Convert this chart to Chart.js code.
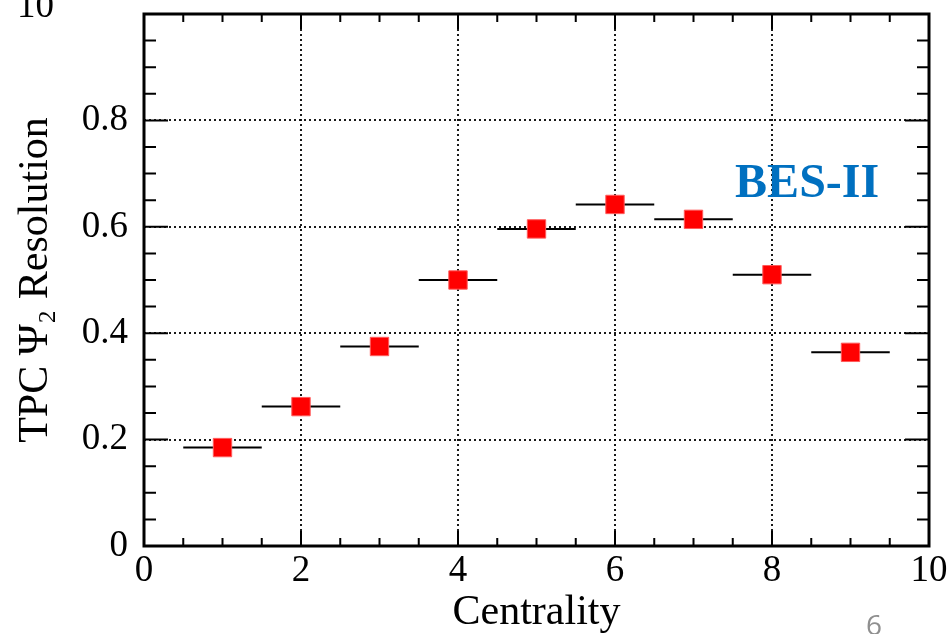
<!DOCTYPE html>
<html>
<head>
<meta charset="utf-8">
<script src="https://cdn.jsdelivr.net/npm/chart.js@4.4.0/dist/chart.umd.min.js"></script>
<style>
    html, body { margin: 0; padding: 0; background: #fff; }
</style>
</head>
<body>
<canvas id="resolution-chart" width="951" height="634"></canvas>
<script>
// Data
const centralityBins = [1, 2, 3, 4, 5, 6, 7, 8, 9];
const binHalfWidths = [0.5, 0.5, 0.5, 0.5, 0.5, 0.5, 0.5, 0.5, 0.5];
const resolutionValues = [0.185, 0.262, 0.375, 0.500, 0.596, 0.642, 0.614, 0.510, 0.364];
// the top label (1) is cut by the slide edge, drawn separately below
const yTickLabels = ["0", "0.2", "0.4", "0.6", "0.8", ""];

const serif = "'Liberation Serif', 'Times New Roman', serif";

// horizontal bin-width bars, one segment per bin (null breaks the line)
const errorBarPoints = [];
centralityBins.forEach((c, i) => {
    errorBarPoints.push({ x: c - binHalfWidths[i], y: resolutionValues[i] });
    errorBarPoints.push({ x: c + binHalfWidths[i], y: resolutionValues[i] });
    errorBarPoints.push({ x: c, y: null });
});

// ROOT style frame with inward ticks on all four sides, plus the labels
const frameAndTicks = {
    id: "frameAndTicks",
    afterDatasetsDraw(chart) {
        const { ctx, chartArea: a, scales: { x, y } } = chart;
        ctx.save();
        ctx.strokeStyle = "#000";
        ctx.lineWidth = 2;
        ctx.beginPath();
        for (let i = 0; i <= 20; i++) {
            const px = x.getPixelForValue(i * 0.5);
            const len = i % 4 === 0 ? 15 : 8;
            ctx.moveTo(px, a.bottom);
            ctx.lineTo(px, a.bottom - len);
            ctx.moveTo(px, a.top);
            ctx.lineTo(px, a.top + len);
        }
        for (let i = 0; i <= 20; i++) {
            const py = y.getPixelForValue(i * 0.05);
            const len = i % 4 === 0 ? 24 : 12;
            ctx.moveTo(a.left, py);
            ctx.lineTo(a.left + len, py);
            ctx.moveTo(a.right, py);
            ctx.lineTo(a.right - len, py);
        }
        ctx.stroke();
        ctx.lineWidth = 3;
        ctx.strokeRect(a.left, a.top, a.right - a.left, a.bottom - a.top);

        ctx.fillStyle = "#000";
        ctx.font = "37px " + serif;
        ctx.textAlign = "left";
        ctx.textBaseline = "alphabetic";
        ctx.fillText("10", 17, 17);

        ctx.fillStyle = "#0070c0";
        ctx.font = "bold 48px " + serif;
        ctx.fillText("BES-II", x.getPixelForValue(7.53), y.getPixelForValue(0.656));

        ctx.fillStyle = "#8f8f8f";
        ctx.font = "28px 'Open Sans', sans-serif";
        ctx.textAlign = "center";
        ctx.fillText("6", 874, 635);
        ctx.restore();
    }
};

const chartCanvas = document.getElementById("resolution-chart");

const resolutionChart = new Chart(chartCanvas, {
    type: "scatter",
    data: {
        datasets: [
            {
                label: "Resolution",
                data: centralityBins.map((c, i) => ({ x: c, y: resolutionValues[i] })),
                pointStyle: "rect",
                pointRadius: 13,
                pointHoverRadius: 13,
                backgroundColor: "#ff0000",
                borderColor: "#ff5a5a",
                borderWidth: 1,
                order: 0,
            },
            {
                label: "Bin width",
                data: errorBarPoints,
                showLine: true,
                spanGaps: false,
                pointRadius: 0,
                borderColor: "#000",
                borderWidth: 2,
                order: 1,
            },
        ],
    },
    options: {
        responsive: false,
        animation: false,
        events: [],
        layout: {
            padding: { top: 12, right: 22, left: 0, bottom: 0 },
        },
        scales: {
            x: {
                type: "linear",
                min: 0,
                max: 10,
                afterFit(scale) {
                    scale.height = 88;
                    scale.paddingLeft = 0;
                    scale.paddingRight = 0;
                },
                ticks: {
                    stepSize: 2,
                    padding: 3,
                    color: "#000",
                    maxRotation: 0,
                    font: { family: serif, size: 37 },
                },
                grid: {
                    drawTicks: false,
                    lineWidth: 2,
                    color: (ctx) => (ctx.tick && (ctx.tick.value === 0 || ctx.tick.value === 10) ? "rgba(0,0,0,0)" : "rgba(0,0,0,0.9)"),
                },
                border: { display: false, dash: [2, 3] },
                title: {
                    display: true,
                    text: "Centrality",
                    color: "#000",
                    font: { family: serif, size: 42, lineHeight: 1 },
                    padding: { top: 0, bottom: 0 },
                },
            },
            y: {
                type: "linear",
                min: 0,
                max: 1,
                afterFit(scale) {
                    scale.width = 144;
                    scale.paddingTop = 0;
                    scale.paddingBottom = 0;
                },
                ticks: {
                    stepSize: 0.2,
                    padding: 16,
                    color: "#000",
                    font: { family: serif, size: 37 },
                    callback: (value, index) => yTickLabels[index],
                },
                grid: {
                    drawTicks: false,
                    lineWidth: 2,
                    color: (ctx) => (ctx.tick && (ctx.index === 0 || ctx.index === yTickLabels.length - 1) ? "rgba(0,0,0,0)" : "rgba(0,0,0,0.9)"),
                },
                border: { display: false, dash: [2, 3] },
                title: {
                    display: true,
                    text: "TPC Ψ₂ Resolution",
                    color: "#000",
                    font: { family: serif, size: 42, lineHeight: 1.1 },
                    padding: { top: 13, bottom: 0 },
                },
            },
        },
        plugins: {
            legend: { display: false },
            tooltip: { enabled: false },
        },
    },
    plugins: [frameAndTicks],
});
</script>
</body>
</html>
